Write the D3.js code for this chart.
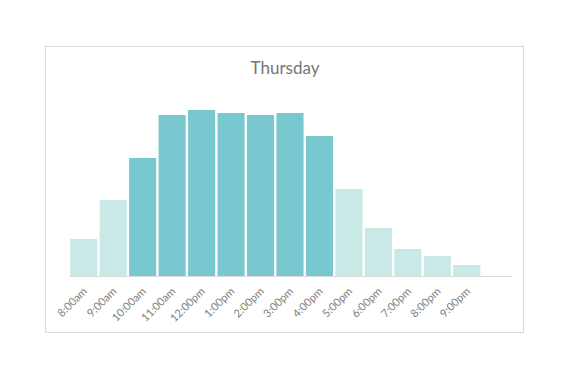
<!DOCTYPE html>
<html>
<head>
<meta charset="utf-8">
<script src="https://cdn.jsdelivr.net/npm/d3@7"></script>
<style>
  html, body { margin: 0; padding: 0; background: #fff; }
  svg { display: block; }
</style>
</head>
<body>
<script>
// ---- data ----
const categories = ["8:00am","9:00am","10:00am","11:00am","12:00pm","1:00pm","2:00pm","3:00pm","4:00pm","5:00pm","6:00pm","7:00pm","8:00pm","9:00pm",""];
const values     = [37, 76, 118, 161, 166, 163, 161, 163, 140, 87, 48, 27, 20, 11, 0];
const groups     = ["off","off","peak","peak","peak","peak","peak","peak","peak","off","off","off","off","off","off"];
const title = "Thursday";

// ---- layout ----
const W = 570, H = 380;
const svg = d3.select("body").append("svg").attr("width", W).attr("height", H);

// frame
svg.append("rect")
  .attr("x", 45.5).attr("y", 46.5).attr("width", 478).attr("height", 286)
  .attr("fill", "#fff").attr("stroke", "#d9d9d9").attr("stroke-width", 1);

svg.append("text")
  .attr("x", 285).attr("y", 74)
  .attr("text-anchor", "middle")
  .attr("font-family", "Lato, 'Open Sans', sans-serif")
  .attr("font-size", 17)
  .attr("fill", "#767676")
  .text(title);

const x = d3.scaleBand().domain(d3.range(categories.length))
  .range([69, 511]).paddingInner(0.08).paddingOuter(0.04);
const baseY = 276;
const y = d3.scaleLinear().domain([0, 176]).range([baseY, 100]);

const color = d => d === "peak" ? "#7ac8cf" : "#c8e9e6";

svg.append("g").selectAll("rect")
  .data(values)
  .join("rect")
  .attr("x", (d, i) => x(i))
  .attr("y", d => y(d))
  .attr("width", x.bandwidth())
  .attr("height", d => y(0) - y(d))
  .attr("fill", (d, i) => color(groups[i]));

// x axis
const xAxis = d3.axisBottom(x).tickSize(0).tickFormat(i => categories[i]);
const gx = svg.append("g").attr("transform", `translate(0,${baseY})`).call(xAxis);
gx.select(".domain").attr("stroke", "#d9d9d9").attr("d", "M69.5,0.5H511.5");
gx.selectAll("text")
  .attr("font-family", "Lato, 'Open Sans', sans-serif")
  .attr("font-size", 11)
  .attr("fill", "#808080")
  .attr("text-anchor", "end")
  .attr("dy", null)
  .attr("y", 0)
  .attr("transform", "translate(4,16) rotate(-45)");
</script>
</body>
</html>
